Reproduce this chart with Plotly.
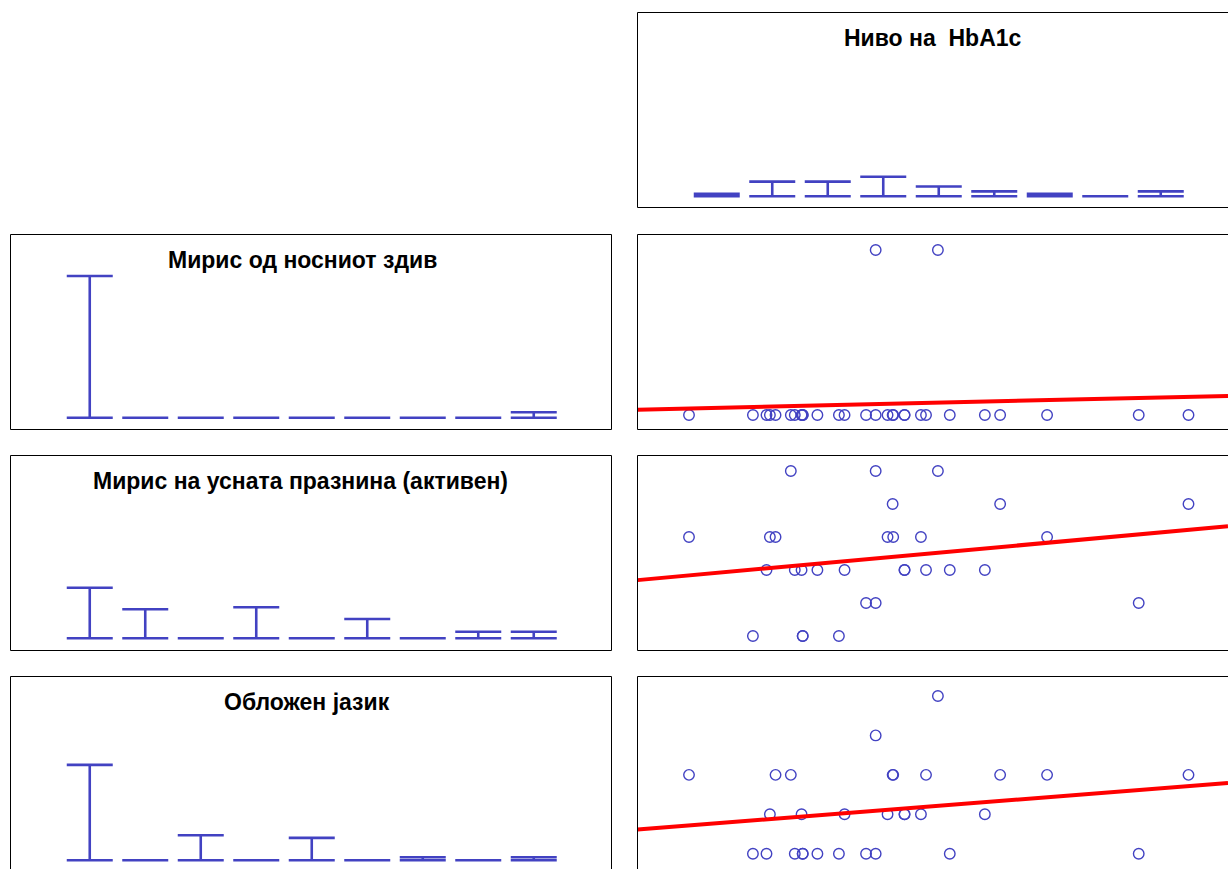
import numpy as np
import plotly.graph_objects as go

W, H = 1228, 869

# ---- patient data -------------------------------------------------------
# HbA1c (%) for each patient
hba1c = [5.00, 6.13, 6.37, 6.43, 6.53, 6.80, 6.87, 6.99, 7.01, 7.01,
         7.27, 7.65, 7.75, 8.13, 8.30, 8.30, 8.51, 8.61, 8.60, 8.81,
         8.81, 9.10, 9.19, 9.40, 9.61, 10.23, 10.50, 11.33, 12.95, 13.83]
# Мирис од носниот здив (score)
nasal_odor = [0, 0, 0, 0, 0, 0, 0, 0, 0, 0,
              0, 0, 0, 0, 0, 1, 0, 0, 0, 0,
              0, 0, 0, 1, 0, 0, 0, 0, 0, 0]
# Мирис на усната празнина (активен) (score)
oral_odor = [3, 0, 2, 3, 3, 5, 2, 2, 0, 0,
             2, 0, 2, 1, 1, 5, 3, 3, 4, 2,
             2, 3, 2, 5, 2, 2, 4, 3, 1, 4]
# Обложен јазик (score)
coated_tongue = [2, 0, 0, 1, 2, 2, 0, 1, 0, 0,
                 0, 0, 1, 0, 0, 3, 1, 2, 2, 1,
                 1, 1, 2, 4, 0, 1, 2, 2, 0, 2]

# ---- diagonal histogram heights (9 bins over each variable's range) -----
hist_hba1c = [1, 6, 6, 8, 4, 2, 1, 0, 2]
hist_nasal = [26.0, 0.0, 0.0, 0.0, 0.0, 0.0, 0.0, 0.0, 0.99]
hist_oral = [9.28, 5.32, 0.0, 5.69, 0.0, 3.54, 0.0, 1.21, 1.21]
hist_tongue = [17.5, 0.0, 4.59, 0.0, 4.11, 0.0, 0.55, 0.0, 0.55]

titles = {
    "hba1c": "Ниво на\u00a0 HbA1c",
    "nasal": "Мирис од носниот здив",
    "oral": "Мирис на усната празнина (активен)",
    "tongue": "Обложен јазик",
}

BLUE = "#4242C2"
RED = "#FF0000"
FONT = "Liberation Sans, Arial, sans-serif"

# ---- panel geometry (pixels) --------------------------------------------
PW, PH = 601, 195
COL_L = [10.5, 637.5]
ROW_T = [12.5, 234.5, 455.5, 676.5]


def lin_range(d0, p0, d1, p1, q0, q1):
    k = (d1 - d0) / (p1 - p0)
    return [d0 + (q0 - p0) * k, d0 + (q1 - p0) * k]


fig = go.Figure()
layout_axes = {}
shapes = []
annotations = []
panel_no = [0]


def add_panel(col, row, vmin, vmax, ymap):
    """Create an axis pair for a panel; ymap = (d0, p0, d1, p1)."""
    panel_no[0] += 1
    n = panel_no[0]
    L = COL_L[col]
    R = L + PW
    T = ROW_T[row]
    B = T + PH
    Rv, Bv = min(R, W), min(B, H)
    # variable range spans from L+51.5 to L+551 within the frame
    xr = lin_range(vmin, L + 51.5, vmax, L + 551.0, L, Rv)
    yr = lin_range(ymap[0], ymap[1], ymap[2], ymap[3], Bv, T)
    sx = "" if n == 1 else str(n)
    common = dict(visible=False, showgrid=False, zeroline=False, fixedrange=True)
    layout_axes["xaxis" + sx] = dict(domain=[L / W, Rv / W], range=xr,
                                     anchor="y" + sx, **common)
    layout_axes["yaxis" + sx] = dict(domain=[1 - Bv / H, 1 - T / H], range=yr,
                                     anchor="x" + sx, **common)
    shapes.append(dict(type="rect", xref="paper", yref="paper",
                       x0=L / W, x1=R / W, y0=1 - B / H, y1=1 - T / H,
                       line=dict(color="black", width=1), layer="above"))
    return "x" + sx, "y" + sx, L, T


def add_hist(col, row, values, heights, base_px, unit_px, title, title_cx):
    vmin, vmax = min(values), max(values)
    xa, ya, L, T = add_panel(col, row, vmin, vmax,
                             (0.0, base_px, 1.0, base_px - unit_px))
    edges = np.linspace(vmin, vmax, len(heights) + 1)
    centers = (edges[:-1] + edges[1:]) / 2
    fig.add_trace(go.Scatter(
        x=centers, y=np.zeros(len(heights)), mode="markers",
        marker=dict(size=1, color="rgba(0,0,0,0)"),
        error_y=dict(type="data", symmetric=False, array=heights,
                     arrayminus=np.zeros(len(heights)), width=23,
                     thickness=2.6, color=BLUE),
        xaxis=xa, yaxis=ya, showlegend=False, hoverinfo="skip"))
    annotations.append(dict(text=title, xref="paper", yref="paper",
                            x=title_cx / W, y=1 - (T + 25.5) / H,
                            xanchor="center", yanchor="middle", showarrow=False,
                            font=dict(family=FONT, size=23, color="black",
                                      weight="bold")))


def add_scatter(row, yvals, ymap):
    xa, ya, L, T = add_panel(1, row, min(hba1c), max(hba1c), ymap)
    fig.add_trace(go.Scatter(
        x=hba1c, y=yvals, mode="markers",
        marker=dict(symbol="circle-open", size=10.5, color=BLUE,
                    line=dict(width=1.4, color=BLUE)),
        xaxis=xa, yaxis=ya, showlegend=False, cliponaxis=False))
    slope, icpt = np.polyfit(hba1c, yvals, 1)
    xr = layout_axes["xaxis" + xa[1:]]["range"]
    fig.add_trace(go.Scatter(
        x=xr, y=[icpt + slope * v for v in xr], mode="lines",
        line=dict(color=RED, width=4), xaxis=xa, yaxis=ya,
        showlegend=False, hoverinfo="skip"))


# top-right: HbA1c histogram
add_hist(1, 0, hba1c, hist_hba1c, 196.3, 2.45, titles["hba1c"], 933.5)

# row 1: nasal odour
add_hist(0, 1, nasal_odor, hist_nasal, 417.7, 5.45, titles["nasal"], 302.8)
add_scatter(1, nasal_odor, (0, 415.0, 1, 250.0))

# row 2: oral cavity odour
add_hist(0, 2, oral_odor, hist_oral, 638.3, 5.45, titles["oral"], 300.8)
add_scatter(2, oral_odor, (0, 636.0, 5, 471.0))

# row 3: coated tongue
add_hist(0, 3, coated_tongue, hist_tongue, 860.3, 5.45, titles["tongue"], 306.6)
add_scatter(3, coated_tongue, (0, 853.7, 4, 696.0))

fig.update_layout(
    width=W, height=H,
    margin=dict(l=0, r=0, t=0, b=0),
    paper_bgcolor="white", plot_bgcolor="rgba(0,0,0,0)",
    shapes=shapes, annotations=annotations,
    **layout_axes,
)

fig.write_html("out.html")
